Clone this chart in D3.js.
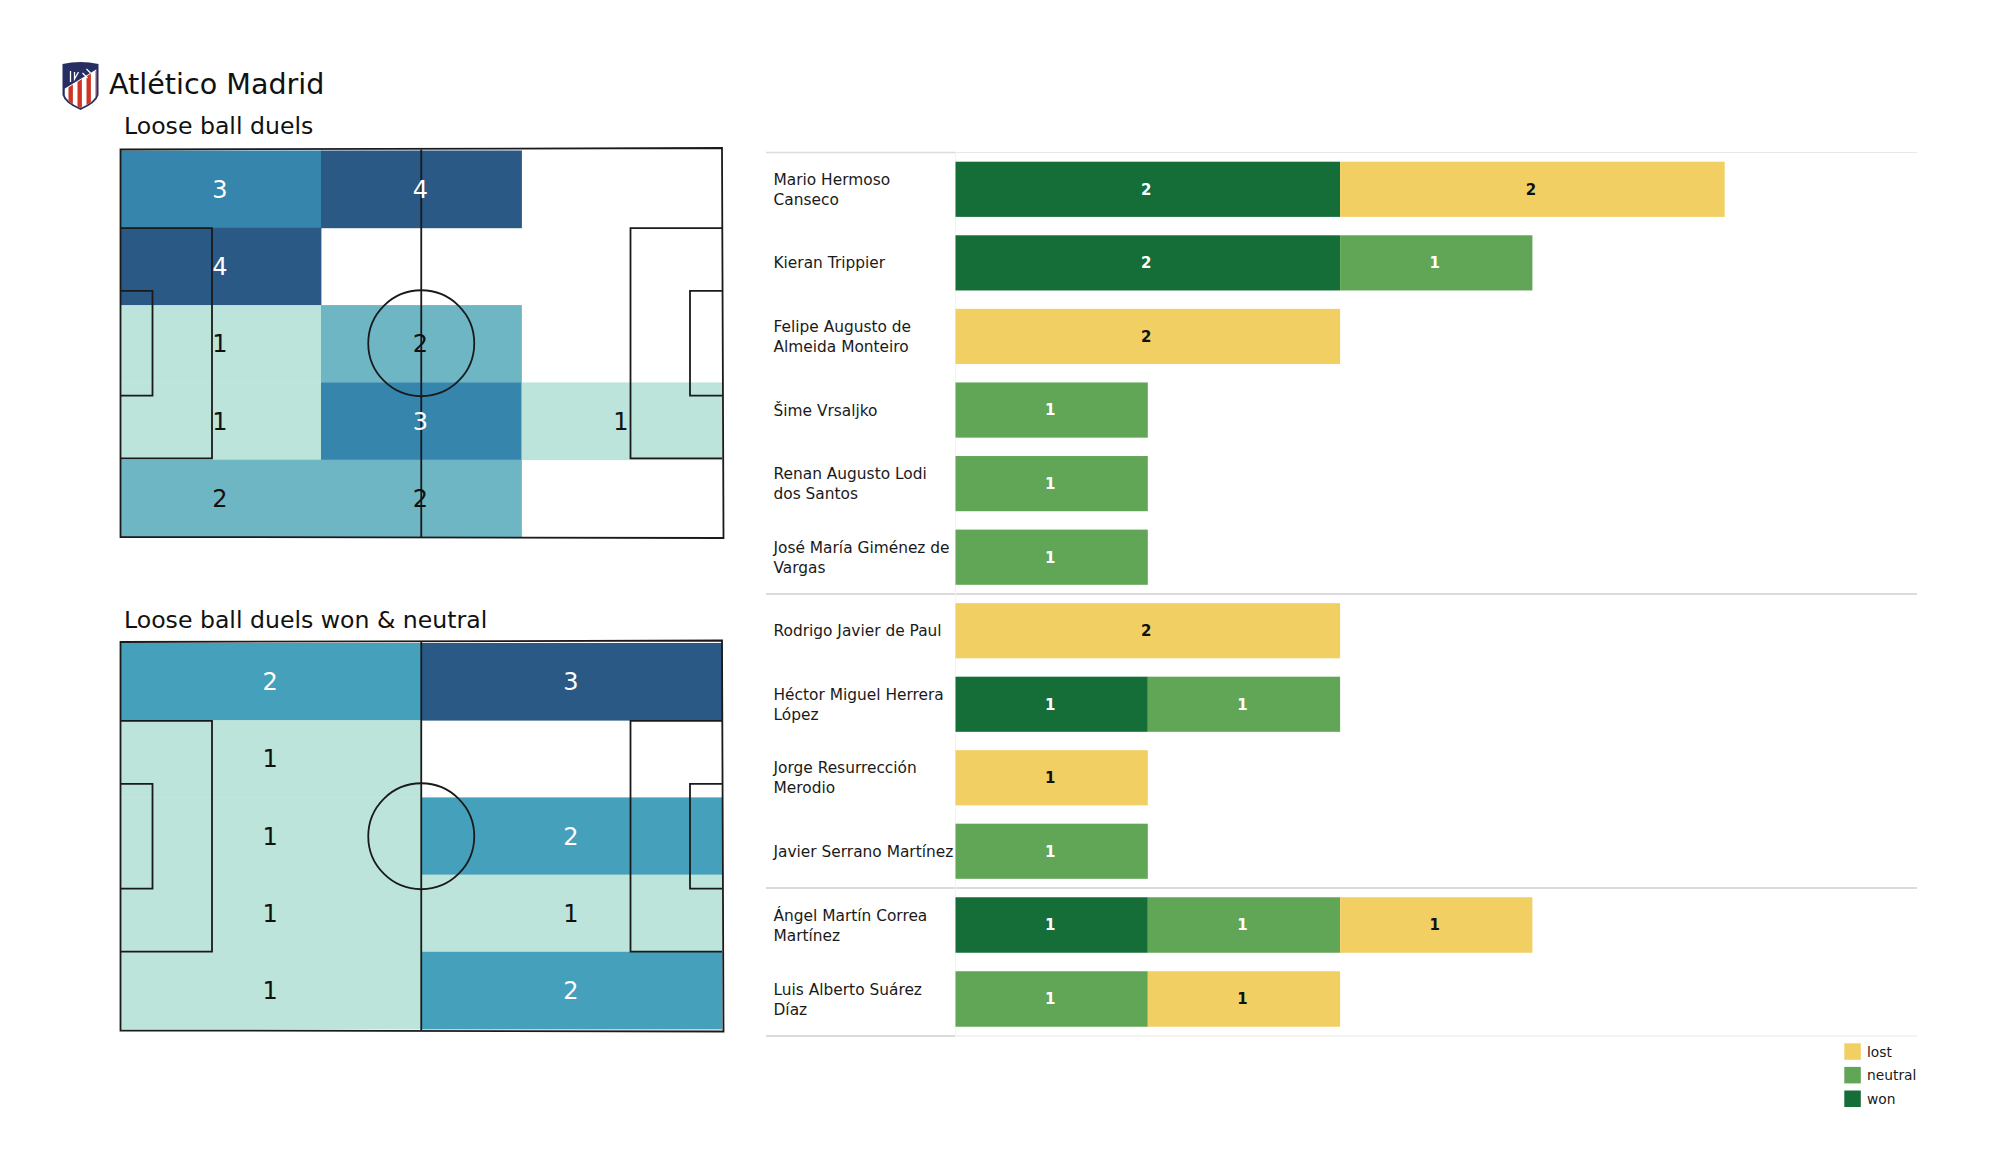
<!DOCTYPE html>
<html><head><meta charset="utf-8">
<script src="https://cdn.jsdelivr.net/npm/d3@7/dist/d3.min.js"></script>
<style>html,body{margin:0;padding:0;background:#fff}svg{display:block}text{font-family:"DejaVu Sans",sans-serif}</style>
</head><body><svg id="c" width="2000" height="1175"></svg>
<script>
// ---- data ----
const teamName = "Atlético Madrid";
const pitchTitles = ["Loose ball duels", "Loose ball duels won & neutral"];
const allDuelsGrid = [[3,4,0],[4,0,0],[1,2,0],[1,3,1],[2,2,0]];
const wonNeutralGrid = [[2,3],[1,0],[1,2],[1,1],[1,2]];
const playerNames = ["Mario Hermoso\nCanseco","Kieran Trippier","Felipe Augusto de\nAlmeida Monteiro","Šime Vrsaljko","Renan Augusto Lodi\ndos Santos","José María Giménez de\nVargas","Rodrigo Javier de Paul","Héctor Miguel Herrera\nLópez","Jorge Resurrección\nMerodio","Javier Serrano Martínez","Ángel Martín Correa\nMartínez","Luis Alberto Suárez\nDíaz"];
const wonValues     = [2,2,0,0,0,0,0,1,0,0,1,0];
const neutralValues = [0,1,0,1,1,1,0,1,0,1,1,1];
const lostValues    = [2,0,2,0,0,0,2,0,1,0,1,1];
const groupSizes = [6,4,2];
const outcomeKeys = ["won","neutral","lost"];
const legendKeys = ["lost","neutral","won"];

// ---- style ----
const svg = d3.select("#c");
const INK = "#1a1a1a";
const outcomeColor = d3.scaleOrdinal(["won","neutral","lost"],["#156d38","#61a656","#f2cf63"]);
const colorA = d3.scaleOrdinal([1,2,3,4],["#bce4da","#6fb6c4","#3585ad","#2b5986"]);
const colorB = d3.scaleOrdinal([1,2,3],["#bce4da","#45a0bb","#2b5986"]);

// ---- header + crest ----
const crest = svg.append("g").attr("transform","translate(62.5,61)");
crest.append("path").attr("d","M0 3 Q18 -1 36 3 L36 34 Q34 42 18 49 Q2 42 0 34Z").attr("fill","#272e61");
const clip = svg.append("clipPath").attr("id","sh");
clip.append("path").attr("d","M2 4 Q18 1 34 4 L34 34 Q32 41 18 47 Q4 41 2 34Z");
const st = crest.append("g").attr("clip-path","url(#sh)");
st.append("path").attr("d","M0 50 L0 29 L36 7 L36 50Z").attr("fill","#fff");
[6,15,24,33].forEach(x=>st.append("path")
  .attr("d",`M${x} 52 L${x} ${30-(x*0.6)} L${x+4.4} ${27-(x*0.6)} L${x+4.4} 52Z`).attr("fill","#ce3524"));
crest.append("path").attr("d","M8 10 L8 21 M12 11 L12 18 L16 11 M20 12 L25 17 M24 8 L28 12").attr("stroke","#fff").attr("stroke-width",1.3).attr("fill","none");
svg.append("text").attr("x",109).attr("y",94).attr("font-size",28.6).attr("fill","#111").text(teamName);

// ---- pitches ----
function pitch(cfg){
  const g = svg.append("g");
  const cols = d3.range(cfg.grid[0].length), rows = d3.range(cfg.grid.length);
  const x = d3.scaleBand(cols,[cfg.x0,cfg.x1]);
  const y = d3.scaleBand(rows,[cfg.y0+1,cfg.y1-(cfg.bottomGap||0)]);
  const cells = cfg.grid.flatMap((r,i)=>r.map((v,j)=>({v,i,j}))).filter(d=>d.v>0);
  g.selectAll("rect").data(cells).join("rect")
    .attr("x",d=>x(d.j)).attr("y",d=>y(d.i)).attr("width",x.bandwidth()+0.4).attr("height",y.bandwidth()+0.4)
    .attr("fill",d=>cfg.color(d.v));
  // markings
  const h = cfg.y1-cfg.y0, cy=(cfg.y0+cfg.y1)/2, cx=(cfg.x0+cfg.x1)/2;
  const line = g.append("g").attr("fill","none").attr("stroke",INK).attr("stroke-width",1.8);
  line.append("path").attr("d",`M${cfg.x0} ${cfg.y0} L${cfg.x1} ${cfg.y0-1.5} L${cfg.x1+1.5} ${cfg.y1+1} L${cfg.x0} ${cfg.y1}Z`);
  line.append("path").attr("d",`M${cx} ${cfg.y0} V${cfg.y1}`);
  const pen=91.5, six=32, ph=h*0.594, sh=h*0.27;
  line.append("path").attr("d",`M${cfg.x0} ${cy-ph/2} H${cfg.x0+pen} V${cy+ph/2} H${cfg.x0}`);
  line.append("path").attr("d",`M${cfg.x0} ${cy-sh/2} H${cfg.x0+six} V${cy+sh/2} H${cfg.x0}`);
  line.append("path").attr("d",`M${cfg.x1} ${cy-ph/2} H${cfg.x1-pen} V${cy+ph/2} H${cfg.x1}`);
  line.append("path").attr("d",`M${cfg.x1} ${cy-sh/2} H${cfg.x1-six} V${cy+sh/2} H${cfg.x1}`);
  line.append("circle").attr("cx",cx).attr("cy",cy).attr("r",53);
  g.selectAll("text.v").data(cells).join("text").attr("class","v")
    .attr("x",d=>x(d.j)+x.bandwidth()/2-0.8).attr("y",d=>y(d.i)+y.bandwidth()/2)
    .attr("dy","0.36em").attr("text-anchor","middle").attr("font-size",24)
    .attr("fill",d=>d.v>=cfg.whiteFrom?"#fff":"#111").text(d=>d.v);
  svg.append("text").attr("x",124).attr("y",cfg.titleY).attr("font-size",23.6).attr("fill","#111").text(cfg.title);
}
pitch({grid:allDuelsGrid,color:colorA,whiteFrom:3,x0:120.5,x1:722,y0:149.5,y1:537,titleY:134,title:pitchTitles[0]});
pitch({grid:wonNeutralGrid,color:colorB,whiteFrom:2,x0:120.5,x1:722,y0:642,y1:1030.5,bottomGap:1.5,titleY:628,title:pitchTitles[1]});

// ---- bars ----
const barX = d3.scaleLinear([0,1],[955.5,1147.8]);
const groupEdges = [152.5,594,888,1036];
const rowsData = playerNames.map((n,i)=>({name:n,won:wonValues[i],neutral:neutralValues[i],lost:lostValues[i]}));
const series = d3.stack().keys(outcomeKeys)(rowsData);
const yByIndex = [];
let start = 0;
groupSizes.forEach((sz,gi)=>{
  const sc = d3.scaleBand(d3.range(start,start+sz),[groupEdges[gi],groupEdges[gi+1]]).paddingInner(0.25).paddingOuter(0.125);
  d3.range(start,start+sz).forEach(i=>yByIndex[i]={y:sc(i),h:sc.bandwidth()});
  start+=sz;
});
const bars = svg.append("g");
// separators
const seps = svg.insert("g",":first-child");
groupEdges.forEach((e,i)=>{
  const outer = i===0||i===groupEdges.length-1;
  seps.append("line").attr("x1",766).attr("x2",955).attr("y1",e).attr("y2",e).attr("stroke",i===0?"#dcdcdc":"#cfcfcf").attr("stroke-width",1.4);
  seps.append("line").attr("x1",955).attr("x2",1917).attr("y1",e).attr("y2",e).attr("stroke",outer?"#e8e8e8":"#cfcfcf").attr("stroke-width",outer?1:1.4);
});
seps.append("line").attr("x1",955.5).attr("x2",955.5).attr("y1",152.5).attr("y2",1036).attr("stroke","#f2f2f2");
series.forEach(s=>{
  s.forEach((d,i)=>{
    if(d[1]-d[0]<=0) return;
    const r = yByIndex[i];
    bars.append("rect").attr("x",barX(d[0])).attr("y",r.y).attr("width",barX(d[1])-barX(d[0])).attr("height",r.h).attr("fill",outcomeColor(s.key));
    bars.append("text").attr("x",(barX(d[0])+barX(d[1]))/2-1.5).attr("y",r.y+r.h/2).attr("dy","0.36em")
      .attr("text-anchor","middle").attr("font-size",15).attr("font-weight","bold")
      .attr("fill",s.key==="lost"?"#111":"#fff").text(d[1]-d[0]);
  });
});
// names
rowsData.forEach((d,i)=>{
  const r=yByIndex[i], lines=d.name.split("\n"), mid=r.y+r.h/2;
  lines.forEach((t,k)=>svg.append("text").attr("x",773.5)
    .attr("y",mid+(k-(lines.length-1)/2)*20).attr("dy","0.36em").attr("font-size",15.4).attr("fill","#1a1a1a").text(t));
});

// ---- legend ----
const legY = d3.scalePoint(legendKeys,[1043.3,1090.5]);
legendKeys.forEach(k=>{
  svg.append("rect").attr("x",1844.3).attr("y",legY(k)).attr("width",16.5).attr("height",16.5).attr("fill",outcomeColor(k));
  svg.append("text").attr("x",1867).attr("y",legY(k)+8.5).attr("dy","0.36em").attr("font-size",13.8).attr("fill","#1a1a1a").text(k);
});
</script></body></html>
